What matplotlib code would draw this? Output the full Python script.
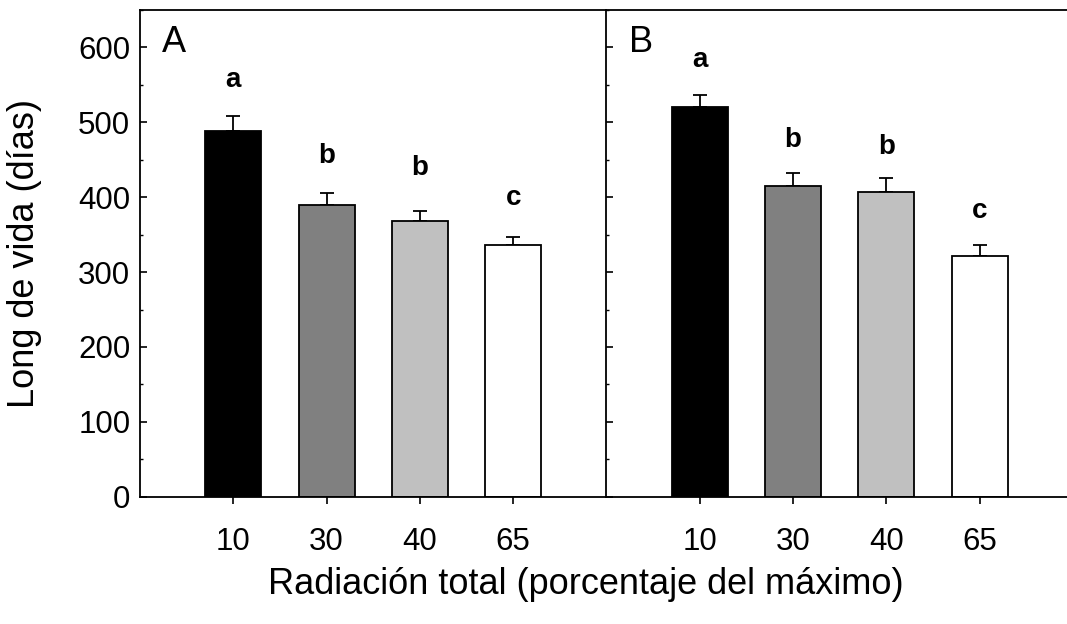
import matplotlib
matplotlib.use("Agg")
import matplotlib.pyplot as plt
import numpy as np

plt.rcParams['font.family'] = ['Liberation Sans', 'DejaVu Sans']

# lifespan (days) by total radiation, two sites
radiacion = ['10', '30', '40', '65']
vida_A = [489, 390, 368, 336]
err_A = [19, 15, 13, 11]
letras_A = ['a', 'b', 'b', 'c']
vida_B = [521, 415, 407, 321]
err_B = [16, 17, 19, 15]
letras_B = ['a', 'b', 'b', 'c']
colores = ['black', '#808080', '#c0c0c0', 'white']

fig = plt.figure(figsize=(10.67, 6.24), dpi=100)
axA = fig.add_axes([0.1312, 0.204, 0.4372, 0.780])
axB = fig.add_axes([0.5684, 0.204, 0.4372, 0.780], sharey=axA)

# letter heights above each bar
offs_A = [48, 50, 58, 52]
offs_B = [46, 45, 41, 45]


def panel(ax, vida, err, letras, offs, tag):
    x = np.arange(len(vida))
    ax.bar(x, vida, width=0.6, color=colores, edgecolor='black', linewidth=1.3, zorder=2)
    ax.errorbar(x, vida, yerr=[np.zeros(len(err)), err], fmt='none', ecolor='black',
                elinewidth=1.3, capsize=5, capthick=1.3, zorder=1)
    for xi, v, e, l, o in zip(x, vida, err, letras, offs):
        ax.text(xi, v + e + o, l, ha='center', va='center', fontsize=20, fontweight='bold')
    ax.set_xlim(-1, 4)
    ax.set_ylim(0, 650)
    ax.set_xticks(x)
    ax.set_xticklabels(radiacion, fontsize=22.5)
    ax.tick_params(axis='x', direction='out', length=5, width=1.2, pad=17)
    ax.set_yticks(np.arange(0, 601, 100))
    ax.set_yticks(np.arange(50, 651, 100), minor=True)
    ax.tick_params(axis='y', which='major', direction='in', length=5, width=1.2, labelsize=22.5, pad=7)
    ax.tick_params(axis='y', which='minor', direction='in', length=2.5, width=1.0)
    ax.tick_params(axis='x', which='minor', bottom=False)
    ax.spines['right'].set_visible(False)
    for s in ['left', 'top', 'bottom']:
        ax.spines[s].set_linewidth(1.3)
    ax.text(-0.76, 606, tag, fontsize=26, ha='left', va='center')


panel(axA, vida_A, err_A, letras_A, offs_A, 'A')
panel(axB, vida_B, err_B, letras_B, offs_B, 'B')
axB.tick_params(axis='y', labelleft=False)

fig.text(0.023, 0.594, 'Long de vida (días)', rotation=90, fontsize=26, ha='center', va='center')
fig.text(0.549, 0.0625, 'Radiación total (porcentaje del máximo)', fontsize=26, ha='center', va='center')

fig.savefig('out.png', dpi=100)
